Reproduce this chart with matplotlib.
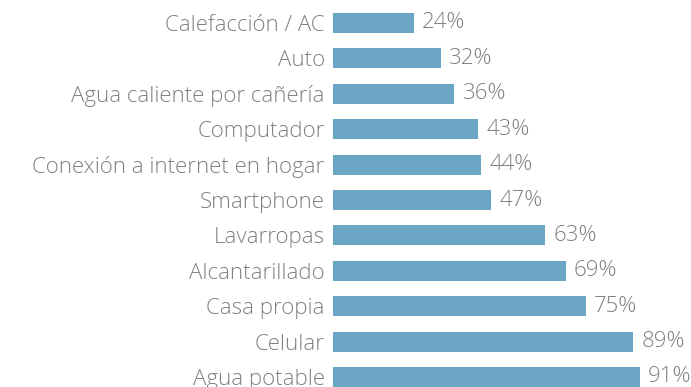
import matplotlib.pyplot as plt

# bienes y servicios en el hogar (% de hogares)
categorias = ['Calefacción / AC', 'Auto', 'Agua caliente por cañería', 'Computador',
              'Conexión a internet en hogar', 'Smartphone', 'Lavarropas',
              'Alcantarillado', 'Casa propia', 'Celular', 'Agua potable']
valores = [24, 32, 36, 43, 44, 47, 63, 69, 75, 89, 91]

color_barra = '#6ba7c5'
color_texto = '#808080'

plt.rcParams['font.family'] = ['Open Sans', 'DejaVu Sans']

fig = plt.figure(figsize=(6.91, 3.87), dpi=100)
ax = fig.add_axes([333 / 691, 0, 358 / 691, 1])

y = list(range(len(categorias)))
ax.barh(y, valores, height=0.565, color=color_barra)

for yi, v in zip(y, valores):
    ax.annotate(f'{v}%', (v, yi), xytext=(6, 0), textcoords='offset points',
                va='center', ha='left', fontsize=16, color=color_texto, fontweight='light')

ax.set_xlim(0, 358 / 3.37)
ax.set_ylim(10 + 10 / 35.4, -23 / 35.4)
ax.set_yticks(y)
ax.set_yticklabels(categorias, fontsize=16, color=color_texto, fontweight='light')
ax.tick_params(axis='y', length=0, pad=6)
ax.set_xticks([])
for s in ax.spines.values():
    s.set_visible(False)

fig.savefig('out.png', dpi=100, facecolor='white')
